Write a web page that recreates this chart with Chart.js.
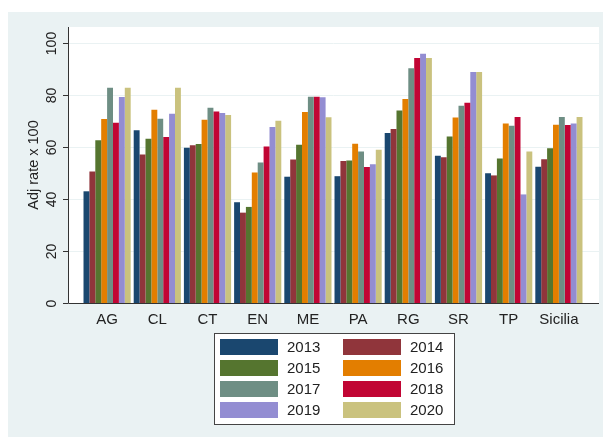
<!DOCTYPE html>
<html>
<head>
<meta charset="utf-8">
<script src="https://cdn.jsdelivr.net/npm/chart.js@4/dist/chart.umd.min.js"></script>
<style>
  body { margin: 0; background: #fff; }
  #wrap { width: 607px; height: 437px; }
</style>
</head>
<body>
<div id="wrap"><canvas id="chart" width="607" height="437"></canvas></div>
<script>
// categories and years
const provinces = ["AG", "CL", "CT", "EN", "ME", "PA", "RG", "SR", "TP", "Sicilia"];
const years = ["2013", "2014", "2015", "2016", "2017", "2018", "2019", "2020"];
const yTicks = [0, 20, 40, 60, 80, 100];

// adj rate x 100, one array per year
const rate2013 = [42.9, 66.3, 59.6, 38.7, 48.5, 48.7, 65.3, 56.6, 49.8, 52.3];
const rate2014 = [50.5, 57.0, 60.6, 34.7, 55.1, 54.5, 66.8, 56.0, 49.0, 55.2];
const rate2015 = [62.5, 63.1, 61.1, 36.9, 60.8, 54.7, 73.9, 63.9, 55.5, 59.4];
const rate2016 = [70.7, 74.2, 70.4, 50.1, 73.4, 61.2, 78.3, 71.2, 68.9, 68.5];
const rate2017 = [82.7, 70.8, 75.0, 54.0, 79.2, 58.2, 90.2, 75.8, 68.1, 71.4];
const rate2018 = [69.2, 63.8, 73.5, 60.1, 79.2, 52.2, 94.1, 76.9, 71.4, 68.4];
const rate2019 = [79.1, 72.7, 73.0, 67.6, 79.0, 53.3, 95.7, 88.7, 41.7, 68.9];
const rate2020 = [82.7, 82.7, 72.2, 70.0, 71.3, 58.9, 94.1, 88.7, 58.2, 71.4];

const series = [rate2013, rate2014, rate2015, rate2016, rate2017, rate2018, rate2019, rate2020];
// stata s2color palette
const colors = ["#1a476f", "#90353b", "#55752f", "#e37e00", "#6e8e84", "#c10534", "#938dd2", "#cac27e"];

const FONT = "'Liberation Sans', Arial, sans-serif";
const BG = "#eaf2f3";

// plot frame: white region is wider than the category scale (stata outer gaps)
const frame = { left: 68, right: 599, top: 27 };

const stataFrame = {
    id: "stataFrame",
    beforeDraw(chart) {
        const ctx = chart.ctx;
        const area = chart.chartArea;
        const y = chart.scales.y;
        ctx.save();
        ctx.fillStyle = BG;
        ctx.fillRect(8, 12, 595, 425);
        ctx.fillStyle = "#fff";
        ctx.fillRect(frame.left, frame.top, frame.right - frame.left, area.bottom - frame.top);

        // horizontal grid
        ctx.strokeStyle = BG;
        ctx.lineWidth = 1;
        yTicks.forEach(v => {
            if (v === 0) return;
            const py = Math.round(y.getPixelForValue(v)) + 0.5;
            ctx.beginPath();
            ctx.moveTo(frame.left, py);
            ctx.lineTo(frame.right, py);
            ctx.stroke();
        });
        ctx.restore();
    },
    afterDatasetsDraw(chart) {
        const ctx = chart.ctx;
        const area = chart.chartArea;
        const y = chart.scales.y;
        ctx.save();
        ctx.strokeStyle = "#333";
        ctx.lineWidth = 1;
        // axes
        ctx.beginPath();
        ctx.moveTo(frame.left + 0.5, frame.top);
        ctx.lineTo(frame.left + 0.5, area.bottom + 0.5);
        ctx.lineTo(frame.right, area.bottom + 0.5);
        ctx.stroke();

        // y ticks and rotated labels
        ctx.fillStyle = "#222";
        ctx.font = "14px " + FONT;
        ctx.textAlign = "center";
        ctx.textBaseline = "middle";
        yTicks.forEach(v => {
            const py = Math.round(y.getPixelForValue(v)) + 0.5;
            ctx.beginPath();
            ctx.moveTo(frame.left - 5, py);
            ctx.lineTo(frame.left, py);
            ctx.stroke();
            ctx.save();
            ctx.translate(52, py);
            ctx.rotate(-Math.PI / 2);
            ctx.fillText(String(v), 0, 0);
            ctx.restore();
        });

        // y title
        ctx.save();
        ctx.translate(34, (frame.top + area.bottom) / 2);
        ctx.rotate(-Math.PI / 2);
        ctx.font = "14.5px " + FONT;
        ctx.fillText("Adj rate x 100", 0, 0);
        ctx.restore();

        // legend box, two columns
        ctx.fillStyle = "#fff";
        ctx.fillRect(214, 333, 240, 91);
        ctx.strokeStyle = "#444";
        ctx.strokeRect(214.5, 333.5, 240, 91);
        ctx.font = "15px " + FONT;
        ctx.textAlign = "left";
        chart.data.datasets.forEach((ds, i) => {
            const col = i % 2;
            const row = Math.floor(i / 2);
            const bx = col === 0 ? 220 : 343;
            const by = 339 + row * 21;
            ctx.fillStyle = ds.backgroundColor;
            ctx.fillRect(bx, by, 58, 16);
            ctx.fillStyle = "#222";
            ctx.fillText(ds.label, bx + 67, by + 8.5);
        });
        ctx.restore();
    }
};

new Chart(document.getElementById("chart"), {
    type: "bar",
    data: {
        labels: provinces,
        datasets: years.map((yr, i) => ({
            label: yr,
            data: series[i],
            backgroundColor: colors[i],
            borderWidth: 0
        }))
    },
    options: {
        responsive: false,
        animation: false,
        devicePixelRatio: 1,
        layout: { padding: { left: 82, right: 23, top: 27, bottom: 100 } },
        datasets: { bar: { categoryPercentage: 0.94, barPercentage: 1 } },
        plugins: {
            legend: { display: false },
            tooltip: { enabled: false }
        },
        scales: {
            x: {
                grid: { display: false, drawTicks: false },
                border: { display: false },
                ticks: { color: "#222", font: { family: FONT, size: 15 }, padding: 8 }
            },
            y: {
                display: false,
                min: 0,
                max: 106
            }
        }
    },
    plugins: [stataFrame]
});
</script>
</body>
</html>
